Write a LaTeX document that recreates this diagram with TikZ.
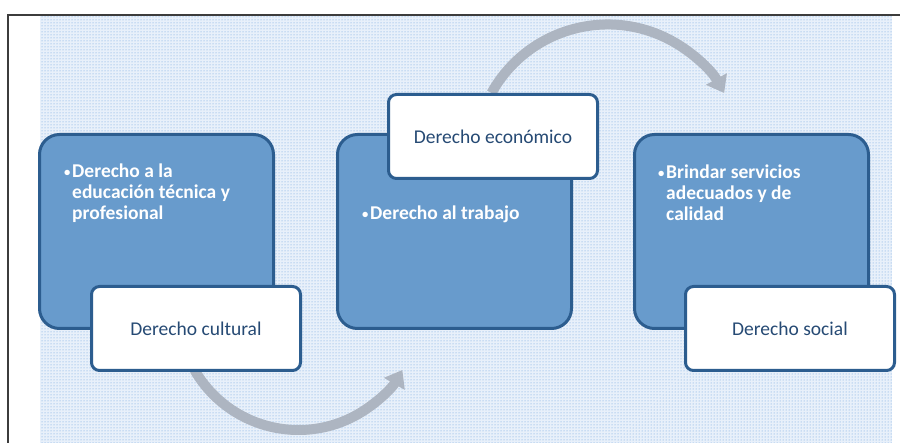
\documentclass[tikz,border=0pt]{standalone}
\usepackage{fontspec}
\setmainfont{Carlito}
\usetikzlibrary{arrows.meta,patterns}
\definecolor{boxblue}{RGB}{104,155,204}
\definecolor{edgeblue}{RGB}{44,93,143}
\definecolor{labelblue}{RGB}{38,74,116}
\definecolor{arrowgray}{RGB}{173,181,193}
\definecolor{bgdot}{RGB}{100,155,220}
\definecolor{bgfill}{RGB}{232,240,250}
\definecolor{framegray}{RGB}{60,60,60}
\newcommand{\itembul}{\makebox[8pt][l]{\raisebox{1.5pt}{\scalebox{0.65}{•}}}}
\begin{document}
\begin{tikzpicture}[x=1pt,y=-1pt,
  bluebox/.style={draw=edgeblue, line width=3pt, fill=boxblue, rounded corners=20pt,
    minimum width=234pt, minimum height=194pt, anchor=north west, inner sep=0pt},
  labelbox/.style={draw=edgeblue, line width=3pt, fill=white, rounded corners=8pt,
    minimum width=209pt, minimum height=84pt, anchor=north west, inner sep=0pt,
    text=labelblue, font=\fontsize{19.5}{21}\selectfont},
  itemtext/.style={anchor=north west, inner sep=0pt, text=white,
    font=\fontsize{19.5}{21}\selectfont\bfseries},
  cycarrow/.style={draw=arrowgray, line width=10pt,
    -{Triangle[width=23pt,length=16pt]}}]
\useasboundingbox (0,0) rectangle (900,443);
% background
\fill[bgfill] (40,16) rectangle (892,443);
\fill[pattern=dots, pattern color=bgdot] (40,16) rectangle (892,443);
\draw[framegray, line width=2pt] (8,443) -- (8,15) -- (900,15);
% blue boxes
\node[bluebox] (b1) at (38,133) {};
\node[bluebox] (b2) at (336,133) {};
\node[bluebox] (b3) at (633,133) {};
% label box positions (boxes drawn later)
\path (90,285) coordinate (p1) (387,93) coordinate (p2) (684,285) coordinate (p3);
% arrows
\draw[cycarrow] (194.5,370) coordinate (a1) arc[start angle=150, end angle=30, radius=120];
\draw[cycarrow] (491.5,93) coordinate (a2) arc[start angle=209, end angle=331, radius=133];
% texts
\node[itemtext] (t1) at (64,163) {\begin{tabular}{@{}l@{}l@{}}\itembul&Derecho a la\\&educación técnica y\\&profesional\end{tabular}};
\node[itemtext] (t2) at (362,205) {\begin{tabular}{@{}l@{}l@{}}\itembul&Derecho al trabajo\end{tabular}};
\node[itemtext] (t3) at (658,164) {\begin{tabular}{@{}l@{}l@{}}\itembul&Brindar servicios\\&adecuados y de\\&calidad\end{tabular}};
% label boxes
\node[labelbox] (l1) at (p1) {Derecho cultural};
\node[labelbox] (l2) at (p2) {Derecho económico};
\node[labelbox] (l3) at (p3) {Derecho social};
\end{tikzpicture}
\end{document}
